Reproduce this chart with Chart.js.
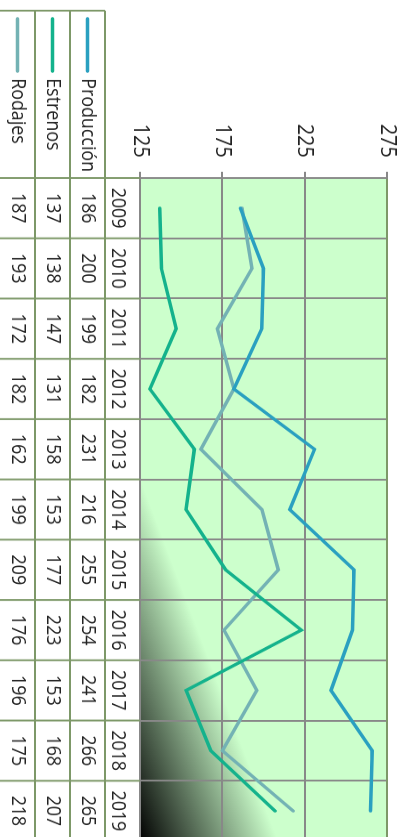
<!DOCTYPE html>
<html>
<head>
<meta charset="utf-8">
<script src="https://cdn.jsdelivr.net/npm/chart.js@4/dist/chart.umd.min.js"></script>
<style>
  html, body { margin: 0; padding: 0; background: #fff; }
  body { width: 405px; height: 837px; overflow: hidden; position: relative; }
  #wrap {
    position: absolute; left: 0; top: 0; width: 850px; height: 405px;
    transform-origin: 0 0; transform: translate(405px, 0) rotate(90deg);
  }
</style>
</head>
<body>
<div id="wrap"><canvas id="chart" width="955" height="405" style="width:850px;height:405px"></canvas></div>
<script>
const YEARS = ['2009', '2010', '2011', '2012', '2013', '2014', '2015', '2016', '2017', '2018', '2019'];
const PRODUCCION = [186, 200, 199, 182, 231, 216, 255, 254, 241, 266, 265];
const ESTRENOS = [137, 138, 147, 131, 158, 153, 177, 223, 153, 168, 207];
const RODAJES = [187, 193, 172, 182, 162, 199, 209, 176, 196, 175, 218];
const Y_TICKS = [125, 175, 225, 275];

const GRID = '#888888';
const OLIVE = '#7d9868';
const FONT = '"Open Sans", sans-serif';

const series = [
  { label: 'Producción', data: PRODUCCION, color: '#2aa0c0' },
  { label: 'Estrenos', data: ESTRENOS, color: '#14b28c' },
  { label: 'Rodajes', data: RODAJES, color: '#73b2b4' },
];

// fondo verde con la esquina oscura
const plotBg = {
  id: 'plotBg',
  beforeDraw(chart) {
    const { ctx, chartArea: a } = chart;
    ctx.save();
    ctx.fillStyle = '#fff';
    ctx.fillRect(0, 0, chart.width, chart.height);
    const g = ctx.createLinearGradient(a.right, a.bottom, a.right - 42, a.bottom - 124);
    g.addColorStop(0, '#000000');
    g.addColorStop(1, '#ccffcc');
    ctx.fillStyle = g;
    ctx.fillRect(a.left, a.top, a.right - a.left, a.bottom - a.top);
    ctx.restore();
  }
};

// tabla de datos bajo el gráfico
const dataTable = {
  id: 'dataTable',
  afterDraw(chart) {
    const { ctx, chartArea: a } = chart;
    const xs = chart.scales.x;
    const half = (a.right - a.left) / YEARS.length / 2;
    const yearTop = a.bottom, rowTop = a.bottom + 35, rowH = 35;
    const headLeft = 12;
    ctx.save();
    ctx.strokeStyle = OLIVE;
    ctx.lineWidth = 2;
    ctx.beginPath();
    for (let r = 0; r < 3; r++) {
      const y = rowTop + r * rowH;
      ctx.moveTo(headLeft, y); ctx.lineTo(chart.width, y);
    }
    ctx.moveTo(headLeft, rowTop); ctx.lineTo(headLeft, chart.height);
    for (let i = 0; i <= YEARS.length; i++) {
      const x = i === 0 ? a.left : xs.getPixelForValue(i - 1) + half;
      ctx.moveTo(x, yearTop); ctx.lineTo(x, chart.height);
    }
    ctx.stroke();

    ctx.fillStyle = '#222';
    ctx.font = '20px ' + FONT;
    ctx.textAlign = 'center';
    ctx.textBaseline = 'middle';
    YEARS.forEach((y, i) => ctx.fillText(y, xs.getPixelForValue(i), yearTop + 22));
    series.forEach((s, r) => {
      const cy = rowTop + r * rowH + rowH / 2;
      s.data.forEach((v, i) => ctx.fillText(String(v), xs.getPixelForValue(i), cy));
    });

    ctx.textAlign = 'left';
    ctx.lineCap = 'round';
    ctx.lineWidth = 3.5;
    series.forEach((s, r) => {
      const cy = rowTop + r * rowH + rowH / 2;
      ctx.strokeStyle = s.color;
      ctx.beginPath();
      ctx.moveTo(21, cy); ctx.lineTo(80, cy);
      ctx.stroke();
      ctx.fillText(s.label, 88, cy);
    });
    ctx.restore();
  }
};

new Chart(document.getElementById('chart'), {
  type: 'line',
  data: {
    labels: YEARS,
    datasets: series.map(s => ({
      label: s.label,
      data: s.data,
      borderColor: s.color,
      backgroundColor: s.color,
      borderWidth: 3.5,
      borderCapStyle: 'round',
      pointRadius: 0,
      tension: 0,
    })),
  },
  options: {
    responsive: false,
    animation: false,
    devicePixelRatio: 1,
    layout: { padding: { top: 18, right: 10, bottom: 140, left: 0 } },
    plugins: { legend: { display: false }, tooltip: { enabled: false } },
    scales: {
      x: {
        offset: true,
        grid: { offset: true, color: GRID, lineWidth: 2, drawTicks: false },
        ticks: { display: false },
        border: { display: false },
        afterFit: s => { s.height = 0; },
      },
      y: {
        min: 125,
        max: 275,
        afterBuildTicks: s => { s.ticks = Y_TICKS.map(v => ({ value: v })); },
        ticks: { font: { family: FONT, size: 22 }, color: '#222', padding: 16 },
        grid: {
          color: c => (c.tick && c.tick.value === 275 ? OLIVE : GRID),
          lineWidth: 2,
          tickLength: 7,
          tickColor: GRID,
        },
        border: { display: true, color: GRID, width: 2 },
        afterFit: s => { s.width = 200; s.paddingTop = 0; s.paddingBottom = 0; },
      },
    },
  },
  plugins: [plotBg, dataTable],
});
</script>
</body>
</html>
